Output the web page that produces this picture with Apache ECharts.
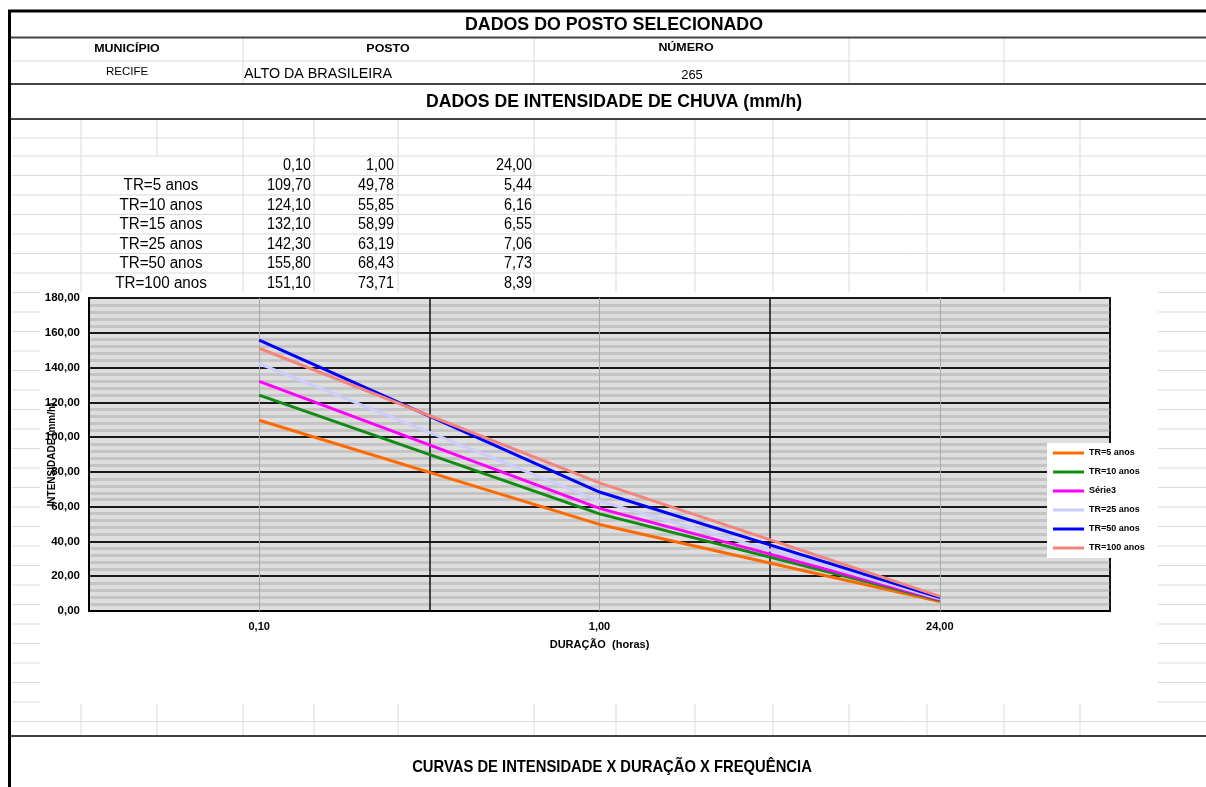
<!DOCTYPE html>
<html>
<head>
<meta charset="utf-8">
<script src="https://cdn.jsdelivr.net/npm/echarts@6/dist/echarts.min.js"></script>
<style>html,body{margin:0;padding:0;background:#fff;}#c{width:1206px;height:787px;}</style>
</head>
<body>
<div id="c"></div>
<script>
// ---- data ----
const durations = [0.10, 1.00, 24.00];
const tableLabels = ['TR=5 anos', 'TR=10 anos', 'TR=15 anos', 'TR=25 anos', 'TR=50 anos', 'TR=100 anos'];
const legendNames = ['TR=5 anos', 'TR=10 anos', 'Série3', 'TR=25 anos', 'TR=50 anos', 'TR=100 anos'];
const tr5 = [109.70, 49.78, 5.44];
const tr10 = [124.10, 55.85, 6.16];
const tr15 = [132.10, 58.99, 6.55];
const tr25 = [142.30, 63.19, 7.06];
const tr50 = [155.80, 68.43, 7.73];
const tr100 = [151.10, 73.71, 8.39];
const seriesColors = ['#ff6a00', '#138a13', '#ff00ff', '#ccccff', '#0000ff', '#f4857c'];
const stationHeaders = ['MUNICÍPIO', 'POSTO', 'NÚMERO'];
const stationValues = ['RECIFE', 'ALTO DA BRASILEIRA', '265'];
const titleTop = 'DADOS DO POSTO SELECIONADO';
const titleData = 'DADOS DE INTENSIDADE DE CHUVA (mm/h)';
const titleBottom = 'CURVAS DE INTENSIDADE X DURAÇÃO X FREQUÊNCIA';
const yAxisName = 'INTENSIDADE (mm/h)';
const xAxisName = 'DURAÇÃO  (horas)';

const allSeries = [tr5, tr10, tr15, tr25, tr50, tr100];
const fmt = v => v.toFixed(2).replace('.', ',');
const durLabels = durations.map(fmt);

const F = "'Liberation Sans', Arial, sans-serif";

// ---- spreadsheet drawing helpers ----
const G = [];
const LIGHT = '#dadada', DARK = '#444';
function line(x1, y1, x2, y2, color, w) {
  G.push({type: 'line', z: -20, silent: true, shape: {x1, y1, x2, y2}, style: {stroke: color, lineWidth: w}});
}
function text(x, y, t, font, align, sx) {
  G.push({type: 'text', z: -5, silent: true, x, y, scaleX: sx || 1,
    style: {text: t, font, fill: '#000', align: align || 'center', verticalAlign: 'middle'}});
}

// header section
line(12, 61, 1206, 61, LIGHT, 1);
[243, 534, 849, 1004].forEach(x => line(x, 38, x, 84, LIGHT, 1));
line(10, 37.5, 1206, 37.5, DARK, 2);
line(10, 84, 1206, 84, DARK, 2);
line(10, 119, 1206, 119, DARK, 2);

// sheet grid
const rowLines = [138];
for (let y = 156; y < 730; y += 19.5) rowLines.push(y);
rowLines.forEach(y => line(12, y, 1206, y, LIGHT, 1));
[81, 243, 314, 398, 534, 616, 695, 773, 849, 927, 1004, 1080].forEach(x => line(x, 120, x, 735, LIGHT, 1));
line(157, 120, 157, 156, LIGHT, 1);
line(157, 702, 157, 735, LIGHT, 1);
line(10, 736, 1206, 736, DARK, 2);

// borders
line(8, 11, 1206, 11, '#000', 3);
line(9.5, 10, 9.5, 787, '#000', 3);

// chart object background
G.push({type: 'rect', z: -10, silent: true, shape: {x: 40, y: 292, width: 1118, height: 412}, style: {fill: '#fff'}});

// texts
text(614, 25, titleTop, 'bold 17.8px ' + F);
text(127, 49, stationHeaders[0], 'bold 11.5px ' + F, 'center', 1.08);
text(388, 49, stationHeaders[1], 'bold 11.5px ' + F, 'center', 1.08);
text(686, 48, stationHeaders[2], 'bold 11.5px ' + F, 'center', 1.08);
text(127, 72, stationValues[0], '11.5px ' + F);
text(244, 74, stationValues[1], '14.3px ' + F, 'left');
text(692, 75, stationValues[2], '13px ' + F);
text(614, 102, titleData, 'bold 17.6px ' + F);

const rowY0 = 166, rowH = 19.6;
const colRight = [311, 394, 532];
durLabels.forEach((d, i) => text(colRight[i], rowY0, d, '16px ' + F, 'right', 0.9));
tableLabels.forEach((lab, r) => {
  const y = rowY0 + rowH * (r + 1);
  text(161, y, lab, '16px ' + F, 'center', 0.95);
  allSeries[r].forEach((v, i) => text(colRight[i], y, fmt(v), '16px ' + F, 'right', 0.9));
});
text(612, 767, titleBottom, 'bold 17px ' + F, 'center', 0.87);

// ---- chart ----
const chart = echarts.init(document.getElementById('c'), null, {renderer: 'canvas'});
const series = allSeries.map((d, i) => {
  const s = {
    name: legendNames[i], type: 'line', data: d, symbol: 'none', smooth: false,
    lineStyle: {color: seriesColors[i], width: 3}, itemStyle: {color: seriesColors[i]}, z: 3 + i
  };
  if (i === 0) {
    s.markLine = {
      silent: true, symbol: 'none', label: {show: false}, z: 2,
      lineStyle: {color: '#a8a8a8', width: 1, type: 'solid'},
      data: durLabels.map(l => ({xAxis: l}))
    };
  }
  return s;
});

chart.setOption({
  animation: false,
  backgroundColor: 'transparent',
  graphic: G,
  grid: {left: 89, top: 298, right: 96, bottom: 176, show: true, backgroundColor: '#dedede', borderColor: '#222', borderWidth: 2, z: 0},
  legend: {
    orient: 'vertical', left: 1047, top: 443, padding: [5, 6, 5, 6],
    backgroundColor: '#fff', icon: 'rect', itemWidth: 31, itemHeight: 3, itemGap: 9,
    textStyle: {fontFamily: F, fontWeight: 'bold', fontSize: 9, lineHeight: 10, color: '#000'},
    data: legendNames
  },
  xAxis: {
    type: 'category', data: durLabels, boundaryGap: true,
    name: xAxisName, nameLocation: 'middle', nameGap: 28,
    nameTextStyle: {fontFamily: F, fontWeight: 'bold', fontSize: 11, color: '#000'},
    axisLine: {lineStyle: {color: '#000', width: 2}},
    axisTick: {show: false},
    axisLabel: {fontFamily: F, fontWeight: 'bold', fontSize: 11, color: '#000', margin: 10},
    splitLine: {show: true, lineStyle: {color: '#111', width: 1.5}}
  },
  yAxis: {
    type: 'value', min: 0, max: 180, interval: 20,
    name: yAxisName, nameLocation: 'middle', nameGap: 32, nameRotate: 90, nameMoveOverlap: false,
    nameTextStyle: {fontFamily: F, fontWeight: 'bold', fontSize: 10, color: '#000'},
    axisLine: {show: true, lineStyle: {color: '#000', width: 2}},
    axisTick: {show: false},
    axisLabel: {fontFamily: F, fontWeight: 'bold', fontSize: 11.5, color: '#000', margin: 9, formatter: v => fmt(v)},
    splitLine: {show: true, lineStyle: {color: '#1a1a1a', width: 2}},
    minorTick: {show: false, splitNumber: 5},
    minorSplitLine: {show: true, lineStyle: {color: '#c4c4c4', width: 3}}
  },
  series
});
</script>
</body>
</html>
